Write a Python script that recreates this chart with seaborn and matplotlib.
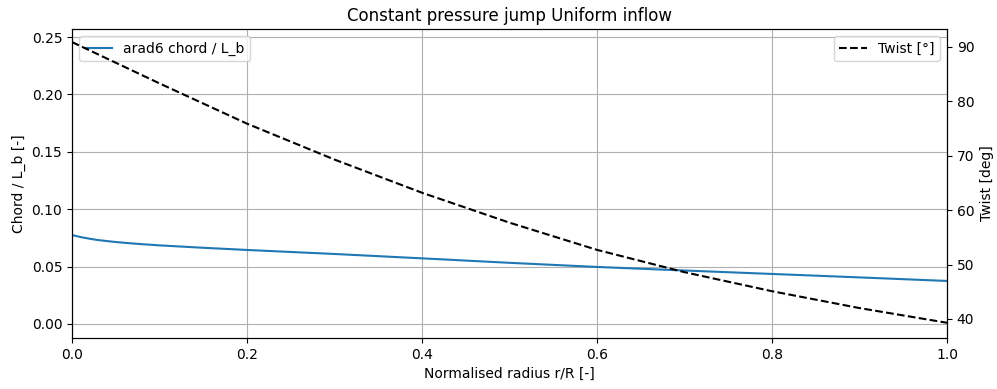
import matplotlib
matplotlib.use("Agg")
import matplotlib.pyplot as plt
import seaborn as sns
import pandas as pd

# Data
r_chord = [0.0, 0.01, 0.02, 0.03, 0.05, 0.075, 0.1, 0.15, 0.2, 0.3, 0.4, 0.5, 0.6, 0.7, 0.8, 0.9, 1.0]
chord = [0.0775, 0.0757, 0.0743, 0.0731, 0.0714, 0.0698, 0.0685, 0.0664, 0.0645, 0.0610, 0.0572, 0.0533, 0.0497, 0.0466, 0.0436, 0.0406, 0.0375]
r_twist = [0.0, 0.1, 0.2, 0.3, 0.4, 0.5, 0.6, 0.7, 0.8, 0.9, 1.0]
twist = [90.9, 83.3, 75.9, 69.3, 63.2, 57.7, 52.7, 48.6, 45.1, 42.0, 39.3]

df_c = pd.DataFrame({"r": r_chord, "chord": chord})
df_t = pd.DataFrame({"r": r_twist, "twist": twist})

fig = plt.figure(figsize=(9.97, 3.89), dpi=100)
ax1 = fig.add_axes([72/997, 1-338/389, (947-72)/997, (338-29)/389])
sns.lineplot(data=df_c, x="r", y="chord", ax=ax1, color="#1f77b4", label="arad6 chord / L_b")
ax1.set_xlim(0, 1)
ax1.set_ylim(-0.0122, 0.257)
ax1.set_yticks([0.0, 0.05, 0.10, 0.15, 0.20, 0.25])
ax1.set_xlabel("Normalised radius r/R [-]")
ax1.set_ylabel("Chord / L_b [-]")
ax1.grid(True)
ax1.legend(loc="upper left")
ax1.set_title("Constant pressure jump Uniform inflow")

ax2 = ax1.twinx()
sns.lineplot(data=df_t, x="r", y="twist", ax=ax2, color="black", linestyle="--", label="Twist [°]")
ax2.set_ylim(36.5, 93.3)
ax2.set_ylabel("Twist [deg]")
ax2.legend(loc="upper right")

fig.savefig("out.png", dpi=100)
